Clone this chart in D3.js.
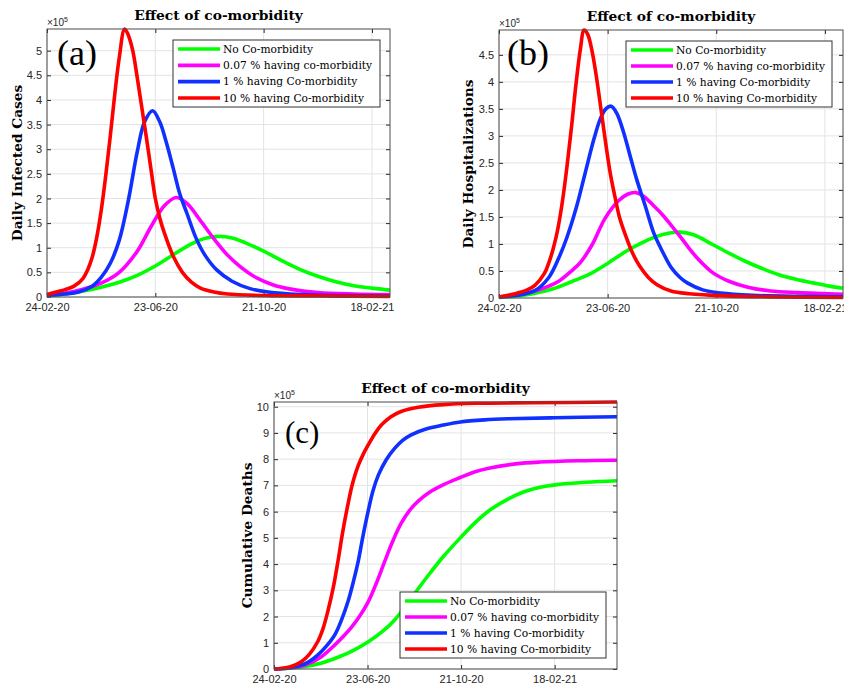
<!DOCTYPE html>
<html>
<head>
<meta charset="utf-8">
<script src="https://cdn.jsdelivr.net/npm/d3@7"></script>
<style>
  body { margin: 0; background: #fff; }
  .tick text { font-family: "Liberation Sans", Arial, sans-serif; font-size: 11px; fill: #262626; }
</style>
</head>
<body>
<div id="wrapper"></div>
<script>
// x axis: days since 24-02-20, ticks every 120 days
const startDate = new Date(2020, 1, 24)
const tickDays = [0, 120, 240, 360]

const seriesNames = [
  "No Co-morbidity",
  "0.07 % having co-morbidity",
  "1 % having Co-morbidity",
  "10 % having Co-morbidity",
]
const seriesColors = ["#00ff00", "#ff00ff", "#1030ff", "#ff0000"]

// tick labels of the y axes (values are in units of 10^5)
const ticksCases = [0, 0.5, 1, 1.5, 2, 2.5, 3, 3.5, 4, 4.5, 5]
const ticksHosp = [0, 0.5, 1, 1.5, 2, 2.5, 3, 3.5, 4, 4.5]
const ticksDeaths = [0, 1, 2, 3, 4, 5, 6, 7, 8, 9, 10]

// (a) daily infected cases, [day, value x 10^5]
const casesNone = [[0,0.02],[20,0.06],[40,0.12],[60,0.2],[80,0.3],[100,0.44],[120,0.63],[140,0.86],[160,1.08],[175,1.19],[190,1.23],[205,1.2],[220,1.1],[240,0.93],[260,0.74],[280,0.56],[300,0.42],[320,0.31],[340,0.23],[360,0.18],[380,0.14]]
const casesLow = [[0,0.03],[20,0.08],[40,0.16],[60,0.28],[80,0.5],[100,0.93],[115,1.42],[130,1.85],[143,2.02],[155,1.9],[170,1.55],[185,1.18],[200,0.85],[215,0.6],[230,0.41],[250,0.25],[270,0.16],[300,0.09],[340,0.06],[380,0.05]]
const casesOne = [[0,0.03],[20,0.06],[35,0.1],[50,0.22],[60,0.4],[70,0.68],[80,1.15],[90,1.95],[100,2.95],[108,3.55],[117,3.78],[125,3.55],[132,3.15],[140,2.6],[147,2.1],[155,1.7],[165,1.2],[175,0.85],[188,0.55],[205,0.32],[225,0.17],[245,0.1],[280,0.05],[380,0.02]]
const casesTen = [[0,0.05],[10,0.1],[20,0.15],[30,0.22],[40,0.38],[45,0.55],[50,0.8],[55,1.2],[60,1.75],[65,2.45],[70,3.25],[75,4.1],[80,4.85],[86,5.44],[90,5.32],[95,5.0],[100,4.45],[105,3.85],[110,3.25],[115,2.62],[120,2.0],[125,1.6],[130,1.3],[140,0.82],[150,0.5],[160,0.3],[170,0.18],[185,0.1],[200,0.06],[240,0.03],[300,0.02],[380,0.01]]

// (b) daily hospitalizations, [day, value x 10^5]
const hospNone = [[0,0.01],[20,0.04],[40,0.09],[60,0.17],[80,0.3],[100,0.44],[120,0.64],[140,0.86],[160,1.04],[180,1.17],[200,1.22],[215,1.17],[236,0.99],[255,0.82],[272,0.68],[290,0.55],[309,0.43],[330,0.34],[347,0.28],[365,0.22],[380,0.18]]
const hospLow = [[0,0.02],[20,0.06],[40,0.13],[55,0.22],[66,0.31],[80,0.5],[90,0.66],[103,0.99],[117,1.47],[132,1.8],[142,1.92],[151,1.95],[160,1.88],[170,1.72],[180,1.55],[190,1.35],[200,1.14],[210,0.92],[220,0.72],[236,0.47],[254,0.31],[275,0.2],[300,0.13],[330,0.1],[380,0.07]]
const hospOne = [[0,0.02],[20,0.05],[40,0.14],[55,0.38],[66,0.74],[75,1.12],[85,1.65],[95,2.3],[105,2.95],[112,3.32],[118,3.5],[124,3.55],[130,3.42],[137,3.1],[145,2.62],[152,2.2],[162,1.68],[171,1.2],[180,0.88],[190,0.57],[200,0.38],[208,0.28],[225,0.15],[245,0.09],[280,0.05],[380,0.02]]
const hospTen = [[0,0.02],[10,0.05],[20,0.09],[30,0.14],[40,0.24],[50,0.45],[55,0.65],[60,0.92],[65,1.28],[70,1.78],[75,2.42],[80,3.15],[85,3.95],[90,4.62],[94,4.96],[98,4.88],[103,4.55],[108,4.05],[113,3.45],[118,2.85],[123,2.3],[128,1.88],[133,1.5],[140,1.15],[147,0.85],[155,0.6],[165,0.38],[175,0.24],[190,0.13],[210,0.08],[250,0.04],[300,0.02],[380,0.01]]

// (c) cumulative deaths, [day, value x 10^5]
const deathsNone = [[0,0],[20,0.03],[40,0.1],[60,0.22],[78,0.4],[100,0.68],[121,1.04],[140,1.45],[155,1.88],[170,2.45],[185,3.06],[200,3.65],[217,4.28],[239,5.0],[258,5.58],[277,6.06],[300,6.48],[320,6.75],[340,6.92],[363,7.03],[400,7.12],[440,7.18]]
const deathsLow = [[0,0],[20,0.04],[40,0.15],[60,0.45],[78,0.92],[90,1.28],[99,1.58],[110,2.02],[121,2.57],[131,3.25],[142,4.1],[152,4.85],[163,5.55],[174,6.05],[185,6.4],[200,6.75],[217,7.02],[239,7.3],[258,7.52],[277,7.66],[310,7.82],[341,7.89],[390,7.94],[440,7.96]]
const deathsOne = [[0,0],[20,0.05],[40,0.2],[56,0.53],[68,0.9],[78,1.3],[87,1.9],[95,2.58],[102,3.35],[108,4.1],[114,5.05],[121,6.05],[127,6.8],[134,7.4],[144,7.98],[155,8.42],[165,8.72],[176,8.93],[195,9.15],[217,9.3],[239,9.42],[270,9.5],[300,9.54],[360,9.58],[440,9.62]]
const deathsTen = [[0,0],[20,0.08],[35,0.28],[45,0.55],[56,1.04],[63,1.55],[69,2.19],[76,3.1],[82,4.1],[88,5.2],[95,6.3],[101,7.1],[108,7.75],[115,8.22],[121,8.55],[130,9.0],[138,9.31],[150,9.62],[163,9.82],[185,9.98],[217,10.08],[260,10.13],[330,10.15],[440,10.18]]

const panels = [
  { label: "(a)", ylabel: "Daily Infected Cases", series: [casesNone, casesLow, casesOne, casesTen],
    yTicks: ticksCases, yMax: 5.44, lastDay: 380,
    left: 47, right: 390, top: 29, bottom: 297, ylabelX: 17, labelSize: 36, labelX: 57, labelY: 65,
    legend: { x: 173, y: 40, w: 207, h: 67 } },
  { label: "(b)", ylabel: "Daily Hospitalizations", series: [hospNone, hospLow, hospOne, hospTen],
    yTicks: ticksHosp, yMax: 4.96, lastDay: 380,
    left: 499, right: 843, top: 30, bottom: 298, ylabelX: 468, labelSize: 36, labelX: 507, labelY: 65,
    legend: { x: 626, y: 41, w: 206, h: 66 } },
  { label: "(c)", ylabel: "Cumulative Deaths", series: [deathsNone, deathsLow, deathsOne, deathsTen],
    yTicks: ticksDeaths, yMax: 10.18, lastDay: 440,
    left: 274, right: 617, top: 402, bottom: 669, ylabelX: 247, labelSize: 31, labelX: 285, labelY: 443,
    legend: { x: 400, y: 592, w: 206, h: 66 } },
]

const svg = d3.select("#wrapper")
  .append("svg")
    .attr("width", 844)
    .attr("height", 685)
    .style("background", "#fff")

const dayToDate = d => d3.timeDay.offset(startDate, d)
const fmt = d3.timeFormat("%d-%m-%y")

panels.forEach(drawPanel)

function drawPanel(p) {
  const x = d3.scaleTime()
    .domain([startDate, dayToDate(p.lastDay)])
    .range([p.left, p.right])
  const y = d3.scaleLinear()
    .domain([0, p.yMax])
    .range([p.bottom, p.top])
  const tickDates = tickDays.map(dayToDate)

  const g = svg.append("g")

  // grid
  g.append("g").selectAll("line")
    .data(tickDates)
    .join("line")
      .attr("x1", d => x(d)).attr("x2", d => x(d))
      .attr("y1", p.top).attr("y2", p.bottom)
      .attr("stroke", "#e3e3e3")
  g.append("g").selectAll("line")
    .data(p.yTicks)
    .join("line")
      .attr("x1", p.left).attr("x2", p.right)
      .attr("y1", d => y(d)).attr("y2", d => y(d))
      .attr("stroke", "#e3e3e3")

  // axes, ticks pointing inward on all four sides
  const styleAxis = sel => {
    sel.select(".domain").remove()
    sel.selectAll(".tick line").attr("stroke", "#262626")
  }
  g.append("g")
    .attr("transform", `translate(0,${p.bottom})`)
    .call(d3.axisBottom(x).tickValues(tickDates).tickFormat(fmt).tickSize(-4).tickPadding(6))
    .call(styleAxis)
  g.append("g")
    .attr("transform", `translate(0,${p.top})`)
    .call(d3.axisTop(x).tickValues(tickDates).tickFormat("").tickSize(-4))
    .call(styleAxis)
  g.append("g")
    .attr("transform", `translate(${p.left},0)`)
    .call(d3.axisLeft(y).tickValues(p.yTicks).tickFormat(d => String(d)).tickSize(-4).tickPadding(5))
    .call(styleAxis)
  g.append("g")
    .attr("transform", `translate(${p.right},0)`)
    .call(d3.axisRight(y).tickValues(p.yTicks).tickFormat("").tickSize(-4))
    .call(styleAxis)

  // curves
  const line = d3.line()
    .x(d => x(dayToDate(d[0])))
    .y(d => y(d[1]))
    .curve(d3.curveCatmullRom.alpha(0.5))
  g.append("g").selectAll("path")
    .data(p.series)
    .join("path")
      .attr("d", line)
      .attr("fill", "none")
      .attr("stroke", (d, i) => seriesColors[i])
      .attr("stroke-width", 3.6)
      .attr("stroke-linejoin", "round")

  // frame
  g.append("rect")
    .attr("x", p.left).attr("y", p.top)
    .attr("width", p.right - p.left).attr("height", p.bottom - p.top)
    .attr("fill", "none")
    .attr("stroke", "#4d4d4d")

  // exponent
  const ex = g.append("text")
    .attr("x", p.left)
    .attr("y", p.top - 3)
    .attr("font-family", "Liberation Sans, Arial, sans-serif")
    .attr("font-size", 10)
    .attr("fill", "#262626")
    .text("×10")
  ex.append("tspan")
    .attr("dy", -4)
    .attr("font-size", 7)
    .text("5")

  // title
  g.append("text")
    .attr("x", (p.left + p.right) / 2)
    .attr("y", p.top - 9)
    .attr("text-anchor", "middle")
    .attr("font-family", "DejaVu Serif, serif")
    .attr("font-weight", "bold")
    .attr("font-size", 13.8)
    .text("Effect of co-morbidity")

  // y label
  g.append("text")
    .attr("transform", `translate(${p.ylabelX},${(p.top + p.bottom) / 2}) rotate(-90)`)
    .attr("text-anchor", "middle")
    .attr("dy", "0.35em")
    .attr("font-family", "DejaVu Serif, serif")
    .attr("font-weight", "bold")
    .attr("font-size", 13.7)
    .text(p.ylabel)

  // panel label
  g.append("text")
    .attr("x", p.labelX)
    .attr("y", p.labelY)
    .attr("font-family", "Liberation Serif, serif")
    .attr("font-size", p.labelSize)
    .text(p.label)

  // legend
  const L = p.legend
  const lg = g.append("g")
  lg.append("rect")
    .attr("x", L.x).attr("y", L.y)
    .attr("width", L.w).attr("height", L.h)
    .attr("fill", "#fff")
    .attr("stroke", "#333")
  const rowH = (L.h - 18) / 3
  const rows = lg.selectAll("g.row")
    .data(seriesNames)
    .join("g")
      .attr("class", "row")
      .attr("transform", (d, i) => `translate(${L.x},${L.y + 9 + i * rowH})`)
  rows.append("line")
    .attr("x1", 5).attr("x2", 47)
    .attr("stroke", (d, i) => seriesColors[i])
    .attr("stroke-width", 3.6)
  rows.append("text")
    .attr("x", 50)
    .attr("dy", "0.35em")
    .attr("font-family", "DejaVu Serif, serif")
    .attr("font-size", 10.7)
    .text(d => d)
}
</script>
</body>
</html>
